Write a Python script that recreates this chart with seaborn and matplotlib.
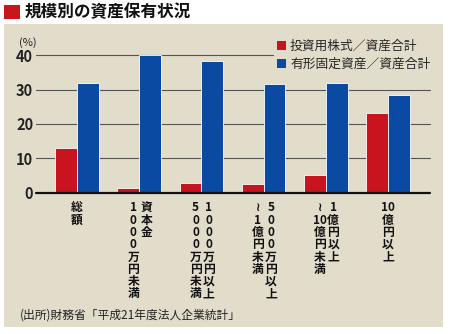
import matplotlib
matplotlib.use("Agg")
import matplotlib.pyplot as plt
import matplotlib.transforms as mtrans
from matplotlib.patches import Rectangle, Patch
import seaborn as sns
import pandas as pd
import re

# ---- data ----
categories = ["総額", "資本金1000万円未満", "1000万円以上5000万円未満",
              "5000万円以上1億円未満", "1億円以上10億円未満", "10億円以上"]
# tick label columns, right-to-left (vertical Japanese writing)
tick_columns = [["総額"],
                ["資本金", "1000万円未満"],
                ["1000万円以上", "5000万円未満"],
                ["5000万円以上", "～1億円未満"],
                ["1億円以上", "～10億円未満"],
                ["10億円以上"]]
series_names = ["投資用株式／資産合計", "有形固定資産／資産合計"]
invest_stock = [13.0, 1.5, 3.0, 2.7, 5.1, 23.1]
fixed_assets = [32.0, 40.0, 38.2, 31.5, 31.8, 28.3]
yticks = [0, 10, 20, 30, 40]
title = "規模別の資産保有状況"
unit_label = "(%)"
source = "(出所)財務省「平成21年度法人企業統計」"

colors = ["#c8141e", "#0b4aa2"]
beige = "#e2dccb"

sns.set_style("white")
plt.rcParams['font.family'] = ['Noto Sans CJK JP', 'DejaVu Sans']

df = pd.DataFrame({
    "cat": categories * 2,
    "series": [series_names[0]] * 6 + [series_names[1]] * 6,
    "value": invest_stock + fixed_assets,
})

W, H = 450, 334
fig = plt.figure(figsize=(W / 100, H / 100), dpi=100)
fig.patch.set_facecolor("white")
# beige panel
fig.patches.append(Rectangle((4 / W, 1 - 327 / H), (443 - 4) / W, (327 - 24) / H,
                             transform=fig.transFigure, facecolor=beige,
                             edgecolor="none", zorder=-2))
# title marker
fig.patches.append(Rectangle((4 / W, 1 - 19 / H), 16 / W, 14 / H,
                             transform=fig.transFigure, facecolor="#c8161e",
                             edgecolor="none", zorder=-1))
fig.text(25 / W, 1 - 12 / H, title, fontsize=12, fontweight="bold",
         va="center", ha="left", color="#111111")

ax = fig.add_axes([36 / W, 1 - 193 / H, (430 - 36) / W, (193 - 55) / H])
ax.set_zorder(2)
ax.set_facecolor("none")
sns.barplot(data=df, x="cat", y="value", hue="series", palette=colors,
            saturation=1, width=0.7, edgecolor="white", linewidth=0.6, ax=ax,
            legend=False, zorder=3)
ax.set_xlim(-0.66, 5.675)
ax.set_ylim(0, 40)
ax.set_yticks(yticks)
ax.set_yticklabels([str(v) for v in yticks], fontsize=10.5, color="#222222",
                   fontweight="bold")
for v in yticks[1:]:
    ax.axhline(v, color="#555555", linewidth=0.8, zorder=1, clip_on=False)
ax.axhline(0, color="#111111", linewidth=1.6, zorder=4, clip_on=False)
for s in ax.spines.values():
    s.set_visible(False)
ax.tick_params(axis="y", length=0, pad=2)
ax.tick_params(axis="x", length=0)
ax.set_xticks(range(len(categories)))
ax.set_xticklabels([""] * len(categories))
ax.set_xlabel("")
ax.set_ylabel("")


def vertical(s):
    out = []
    for m in re.finditer(r"\d+|.", s):
        t = m.group(0)
        if t.isdigit() and len(t) > 2:
            out.extend(list(t))
        else:
            out.append(t)
    out = ["≀" if c == "～" else c for c in out]
    return "\n".join(out)


base = mtrans.blended_transform_factory(ax.transData, ax.transAxes)
for i, cols in enumerate(tick_columns):
    n = len(cols)
    for j, col in enumerate(cols):
        if n == 1:
            dx = 0
        else:
            dx = 4.8 if j == 0 else -4.8
        tr = mtrans.offset_copy(base, fig=fig, x=dx + 0.5 * (n - 1), y=-6.0, units="points")
        ax.text(i, 0, vertical(col), transform=tr, ha="center", va="top",
                fontsize=8.5, linespacing=0.93, color="#111111",
                fontweight="bold", multialignment="center")

fig.text(28 / W, 1 - 43 / H, unit_label, fontsize=8, ha="center", va="center",
         color="#222222")

handles = [Patch(facecolor=c, edgecolor="none") for c in colors]
leg = fig.legend(handles, series_names, loc="upper left",
                 bbox_to_anchor=(274 / W, 1 - 37.5 / H), frameon=True,
                 facecolor=beige, edgecolor="none", framealpha=1,
                 fontsize=9.2, handlelength=0.75, handleheight=0.75,
                 handletextpad=0.3, labelspacing=0.4, borderpad=0.2,
                 borderaxespad=0)
leg.set_zorder(5)

fig.text(20 / W, 1 - 315 / H, source, fontsize=8.5, ha="left", va="center",
         color="#222222")

fig.savefig("out.png", dpi=100, facecolor="white")
